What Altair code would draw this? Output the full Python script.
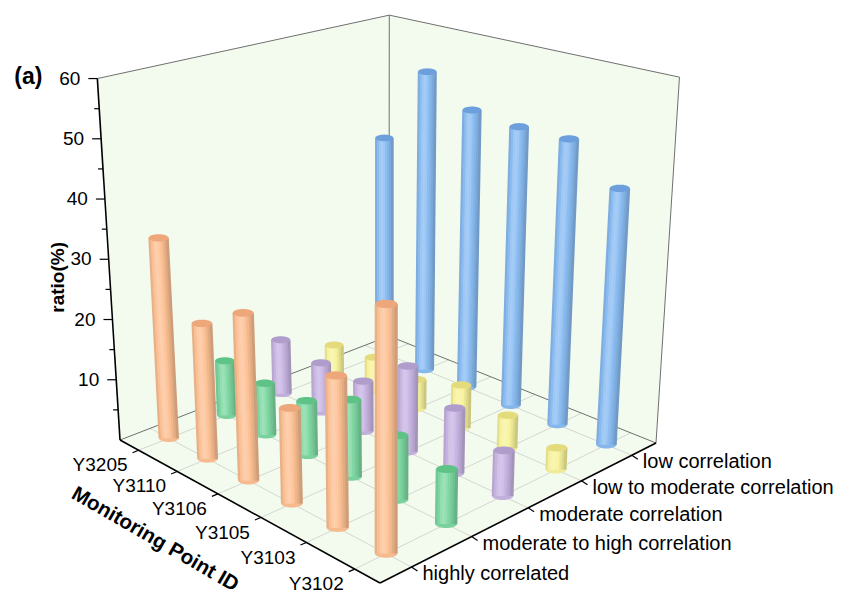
import numpy as np
import pandas as pd
import altair as alt

# ---------------- data ----------------
point_ids = ["Y3205", "Y3110", "Y3106", "Y3105", "Y3103", "Y3102"]
categories = ["highly correlated", "moderate to high correlation",
              "moderate correlation", "low to moderate correlation",
              "low correlation"]
highly_correlated = [33.3, 22.0, 26.6, 14.8, 23.0, 36.7]
moderate_to_high = [9.3, 8.6, 8.9, 12.3, 10.0, 8.3]
moderate = [9.4, 8.4, 8.4, 14.0, 10.4, 7.1]
low_to_moderate = [5.0, 5.8, 5.0, 7.2, 5.4, 3.5]
low = [39.4, 53.4, 48.6, 47.8, 47.9, 42.0]
series = [highly_correlated, moderate_to_high, moderate, low_to_moderate, low]

body_colors = ["#fdc194", "#7fd8a3", "#c9b5e3", "#f8f39b", "#8bbdf3"]
top_colors = ["#eea67b", "#5fc287", "#b09dcc", "#e4db7d", "#6e9fdd"]
ratio_major = [10, 20, 30, 40, 50, 60]
ratio_minor = [5, 15, 25, 35, 45, 55]
Z_MAX = 60

FONT = "Liberation Sans"
WALL = "#f3fbef"

# ---------------- 3-D projection (perspective-like) ----------------
M = 8
W, H = 831, 590
src = [(0, 0), (1, 0), (1, 1), (0, 1)]
dst = [(120, 440), (380, 583), (656, 443), (389, 336)]


def solve_h(src, dst):
    A, b = [], []
    for (u, v), (x, y) in zip(src, dst):
        A.append([u, v, 1, 0, 0, 0, -u * x, -v * x]); b.append(x)
        A.append([0, 0, 0, u, v, 1, -u * y, -v * y]); b.append(y)
    h = np.linalg.solve(np.array(A, float), np.array(b, float))
    return np.append(h, 1.0).reshape(3, 3)


HM = solve_h(src, dst)
VP = (385.0, 4670.0)


def floor_pt(u, v):
    p = HM @ np.array([u, v, 1.0])
    return p[0] / p[2], p[1] / p[2]


def px_per_unit(u, v):
    return 1.0 / (0.166 - 0.023 * u + 0.021 * v)


def proj(u, v, z=0.0):
    bx, by = floor_pt(u, v)
    dy = -z * px_per_unit(u, v)
    dx = dy * (bx - VP[0]) / (by - VP[1])
    return bx + dx - M, by + dy - M


def U(i):
    return (i + 0.5) / len(point_ids)


def V(j):
    return (j + 0.5) / len(categories)


def poly_area_df(pts):
    xs = sorted(set(round(p[0], 4) for p in pts))
    rows = []
    n = len(pts)
    for x in xs:
        ys = []
        for a in range(n):
            (x1, y1), (x2, y2) = pts[a], pts[(a + 1) % n]
            lo, hi = min(x1, x2), max(x1, x2)
            if lo - 1e-3 <= x <= hi + 1e-3:
                if abs(x2 - x1) < 1e-6:
                    ys += [y1, y2]
                else:
                    t = (x - x1) / (x2 - x1)
                    ys.append(y1 + t * (y2 - y1))
        rows.append({"x": x, "y": min(ys), "y2": max(ys)})
    return pd.DataFrame(rows)


def shade(hx, f):
    c = np.array([int(hx[k:k + 2], 16) for k in (1, 3, 5)], float)
    if f >= 1:
        c = c + (255 - c) * min(1.0, (f - 1) * 4)
    else:
        c = c * f
    c = np.clip(c, 0, 255).astype(int)
    return "#%02x%02x%02x" % tuple(c)


XS = alt.Scale(domain=[0, W], nice=False, zero=False)
YS = alt.Scale(domain=[0, H], nice=False, zero=False, reverse=True)


def X(f):
    return alt.X(f, type="quantitative", scale=XS, axis=None)


def Y(f):
    return alt.Y(f, type="quantitative", scale=YS, axis=None)


def rule_layer(df, **kw):
    enc = dict(x=X("x"), y=Y("y"), x2=alt.X2("x2"), y2=alt.Y2("y2"))
    if "c" in df.columns:
        enc["color"] = alt.Color("c:N", scale=None)
    if "w" in df.columns:
        enc["strokeWidth"] = alt.StrokeWidth("w:Q", scale=None)
    return alt.Chart(df).mark_rule(**kw).encode(**enc)


layers = []

# walls and floor
walls = [
    [proj(0, 0, 0), proj(0, 0, Z_MAX), proj(0, 1, Z_MAX), proj(0, 1, 0)],
    [proj(0, 1, 0), proj(0, 1, Z_MAX), proj(1, 1, Z_MAX), proj(1, 1, 0)],
    [proj(0, 0, 0), proj(1, 0, 0), proj(1, 1, 0), proj(0, 1, 0)],
]
for w in walls:
    layers.append(alt.Chart(poly_area_df(w)).mark_area(color=WALL, opacity=1)
                  .encode(x=X("x"), y=Y("y"), y2=alt.Y2("y2")))

# floor grid
grid = []
for i in range(len(point_ids)):
    (x1, y1), (x2, y2) = proj(U(i), 0), proj(U(i), 1)
    grid.append({"x": x1, "y": y1, "x2": x2, "y2": y2})
for j in range(len(categories)):
    (x1, y1), (x2, y2) = proj(0, V(j)), proj(1, V(j))
    grid.append({"x": x1, "y": y1, "x2": x2, "y2": y2})
layers.append(rule_layer(pd.DataFrame(grid), color="#cfd3cd", strokeWidth=0.9))

# box edges
gray_edges = [((0, 0, Z_MAX), (0, 1, Z_MAX)), ((0, 1, Z_MAX), (1, 1, Z_MAX)),
              ((0, 1, 0), (0, 1, Z_MAX)), ((1, 1, 0), (1, 1, Z_MAX)),
              ((0, 0, 0), (0, 1, 0)), ((0, 1, 0), (1, 1, 0))]
black_edges = [((0, 0, 0), (0, 0, Z_MAX)), ((0, 0, 0), (1, 0, 0)),
               ((1, 0, 0), (1, 1, 0))]


def edge_df(edges):
    rows = []
    for a, b in edges:
        (x1, y1), (x2, y2) = proj(*a), proj(*b)
        rows.append({"x": x1, "y": y1, "x2": x2, "y2": y2})
    return pd.DataFrame(rows)


layers.append(rule_layer(edge_df(gray_edges), color="#6f6f6f", strokeWidth=1))
layers.append(rule_layer(edge_df(black_edges), color="black", strokeWidth=1.6))

# ticks
ticks = []
for z in ratio_major:
    x, y = proj(0, 0, z)
    ticks.append({"x": x, "y": y, "x2": x - 9, "y2": y})
for z in ratio_minor:
    x, y = proj(0, 0, z)
    ticks.append({"x": x, "y": y, "x2": x - 5, "y2": y})
for i in range(len(point_ids)):
    x, y = proj(U(i), 0, 0)
    ticks.append({"x": x, "y": y, "x2": x - 6, "y2": y + 2.5})
for j in range(len(categories)):
    x, y = proj(1, V(j), 0)
    ticks.append({"x": x, "y": y, "x2": x + 6, "y2": y + 4})
layers.append(rule_layer(pd.DataFrame(ticks), color="black", strokeWidth=1.2))

# bars (cylinders), drawn back to front
N_STRIP = 9
profile = [0.92, 0.99, 1.04, 1.06, 1.04, 1.0, 0.95, 0.89, 0.82]
ell = []
for a in range(36):
    t = 2 * np.pi * a / 36
    ell.append("%.4f %.4f" % (np.cos(t), 0.37 * np.sin(t)))
ELLIPSE = "M " + " L ".join(ell) + " Z"

groups = {}
for i in range(len(point_ids)):
    for j in range(len(categories)):
        groups.setdefault(i - j, []).append((i, j))

for k in sorted(groups):
    bodies, bottoms, tops = [], [], []
    for i, j in groups[k]:
        u, v = U(i), V(j)
        z = series[j][i]
        bx, by = proj(u, v, 0)
        tx, ty = proj(u, v, z)
        w = 3.3 * px_per_unit(u, v)
        sw = w / N_STRIP
        for s in range(N_STRIP):
            off = -w / 2 + (s + 0.5) * sw
            bodies.append({"x": bx + off, "y": by, "x2": tx + off, "y2": ty,
                           "w": sw + 0.6, "c": shade(body_colors[j], profile[s]),
                           "id": point_ids[i], "cat": categories[j], "ratio": z})
        bottoms.append({"x": bx, "y": by, "s": w * w, "c": shade(body_colors[j], 0.97)})
        tops.append({"x": tx, "y": ty, "s": w * w, "c": top_colors[j]})
    layers.append(alt.Chart(pd.DataFrame(bottoms))
                  .mark_point(shape=ELLIPSE, filled=True, opacity=1, strokeWidth=0)
                  .encode(x=X("x"), y=Y("y"), color=alt.Color("c:N", scale=None),
                          size=alt.Size("s:Q", scale=None)))
    layers.append(rule_layer(pd.DataFrame(bodies)))
    layers.append(alt.Chart(pd.DataFrame(tops))
                  .mark_point(shape=ELLIPSE, filled=True, opacity=1, strokeWidth=0)
                  .encode(x=X("x"), y=Y("y"), color=alt.Color("c:N", scale=None),
                          size=alt.Size("s:Q", scale=None)))

# labels
ylab = []
for z in ratio_major:
    x, y = proj(0, 0, z)
    ylab.append({"x": x - 17, "y": y, "t": str(z)})
mplab = []
for i, name in enumerate(point_ids):
    x, y = proj(U(i), 0, 0)
    mplab.append({"x": x - 11, "y": y + 15, "t": name})
catlab = []
for j, name in enumerate(categories):
    x, y = proj(1, V(j), 0)
    catlab.append({"x": x + 11, "y": y + 7, "t": name})


def text_layer(df, **kw):
    return alt.Chart(df).mark_text(font=FONT, color="black", baseline="middle", **kw).encode(
        x=X("x"), y=Y("y"), text="t:N")


layers.append(text_layer(pd.DataFrame(ylab), align="right", fontSize=19))
layers.append(text_layer(pd.DataFrame(mplab), align="right", fontSize=19))
layers.append(text_layer(pd.DataFrame(catlab), align="left", fontSize=20))

ax0 = proj(0, 0, 27)
mid_lf = proj(0.5, 0, 0)
top_l = proj(0, 0, Z_MAX)
titles_v = pd.DataFrame([{"x": ax0[0] - 52, "y": ax0[1], "t": "ratio(%)"}])
titles_d = pd.DataFrame([{"x": mid_lf[0] - 84, "y": mid_lf[1] + 34, "t": "Monitoring Point ID"}])
titles_a = pd.DataFrame([{"x": top_l[0] - 69, "y": top_l[1] - 2, "t": "(a)"}])
layers.append(text_layer(titles_v, align="center", angle=270, fontSize=19, fontWeight="bold"))
layers.append(text_layer(titles_d, align="center", angle=30, fontSize=20.5, fontWeight="bold"))
layers.append(text_layer(titles_a, align="center", fontSize=23, fontWeight="bold"))

chart = alt.layer(*layers).properties(
    width=W, height=H, padding=0,
    autosize=alt.AutoSizeParams(type="none"),
    background="white",
).configure_view(stroke=None)

chart.save("out.html", embed_options={"renderer": "svg", "actions": False})
